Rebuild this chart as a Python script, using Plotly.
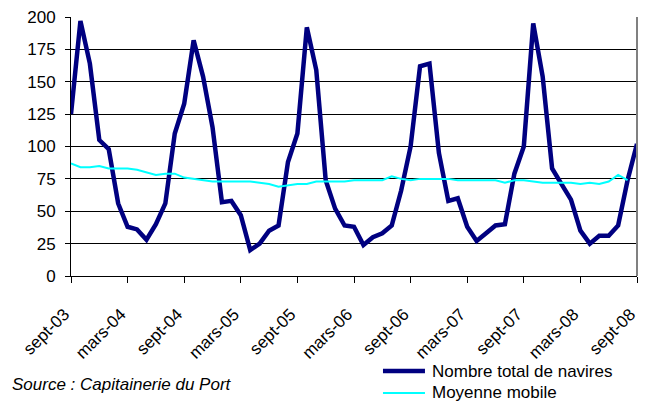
import plotly.graph_objects as go

# Monthly labels, sept-03 .. sept-08
month_names = ["janv", "févr", "mars", "avr", "mai", "juin",
               "juil", "août", "sept", "oct", "nov", "déc"]
months = []
for k in range(61):
    m = (8 + k) % 12
    y = 3 + (8 + k) // 12
    months.append(f"{month_names[m]}-{y:02d}")

navires = [125, 197, 164, 105, 98, 56, 38, 36, 28, 40, 56, 110,
           133, 182, 154, 115, 57, 58, 47, 20, 25, 35, 39, 88,
           110, 192, 159, 74, 52, 39, 38, 24, 30, 33, 39, 66,
           100, 162, 164, 95, 58, 60, 38, 27, 33, 39, 40, 79,
           100, 195, 154, 83, 71, 59, 35, 25, 31, 31, 39, 74,
           102]

moyenne = [87, 84, 84, 85, 83, 83, 83, 82, 80, 78, 79, 79,
           76, 75, 74, 73, 73, 73, 73, 73, 72, 71, 69, 70,
           71, 71, 73, 73, 73, 73, 74, 74, 74, 74, 77, 75,
           74, 75, 75, 75, 75, 74, 74, 74, 74, 74, 72, 74,
           74, 73, 72, 72, 72, 72, 71, 72, 71, 73, 78, 74,
           None]

tick_labels = months[::6]
y_ticks = [0, 25, 50, 75, 100, 125, 150, 175, 200]

series_names = ["Nombre total de navires", "Moyenne mobile"]
series_colors = ["#000080", "#00FFFF"]
series_widths = [4.5, 2]

font = "Liberation Sans, Arial, sans-serif"

fig = go.Figure()
for vals, name, col, w in zip([navires, moyenne], series_names,
                              series_colors, series_widths):
    fig.add_trace(go.Scatter(x=months, y=vals, mode="lines", name=name,
                             line=dict(color=col, width=w)))

fig.update_layout(
    width=650, height=403,
    margin=dict(l=71, r=13, t=17, b=127),
    paper_bgcolor="white", plot_bgcolor="white",
    font=dict(family=font, size=17, color="black"),
    showlegend=False,
    xaxis=dict(type="category", range=[0, 60], automargin=False,
               tickmode="array", tickvals=tick_labels,
               ticktext=[t + "\u00a0\u00a0" for t in tick_labels],
               tickangle=-45, ticks="outside", ticklen=6, tickcolor="black",
               ticklabelstandoff=8,
               showline=True, linecolor="black", linewidth=1,
               showgrid=False, zeroline=False,
               tickfont=dict(size=17)),
    yaxis=dict(range=[0, 200], tickvals=y_ticks, automargin=False,
               ticks="outside", ticklen=5, tickcolor="black",
               ticklabelstandoff=6,
               showline=True, linecolor="black", linewidth=1,
               showgrid=True, gridcolor="black", gridwidth=1,
               zeroline=False, tickfont=dict(size=17)),
)

# right border of the plot area
fig.add_shape(type="line", xref="paper", yref="paper",
              x0=1, x1=1, y0=0, y1=1,
              line=dict(color="#808080", width=2))

# legend drawn below the plot, to the right
leg_y = [-0.3668, -0.4517]
for yy, name, col, w in zip(leg_y, series_names, series_colors, series_widths):
    fig.add_shape(type="line", xref="paper", yref="paper",
                  x0=0.5512, x1=0.6254, y0=yy, y1=yy,
                  line=dict(color=col, width=w))
    fig.add_annotation(text=name, xref="paper", yref="paper",
                       x=0.6343, y=yy, xanchor="left", yanchor="middle",
                       showarrow=False, font=dict(size=17, family=font))

fig.add_annotation(text="<i>Source : Capitainerie du Port</i>",
                   xref="paper", yref="paper", x=-0.1078, y=-0.4208,
                   xanchor="left", yanchor="middle", showarrow=False,
                   font=dict(size=17, family=font))

fig.write_html("out.html")
